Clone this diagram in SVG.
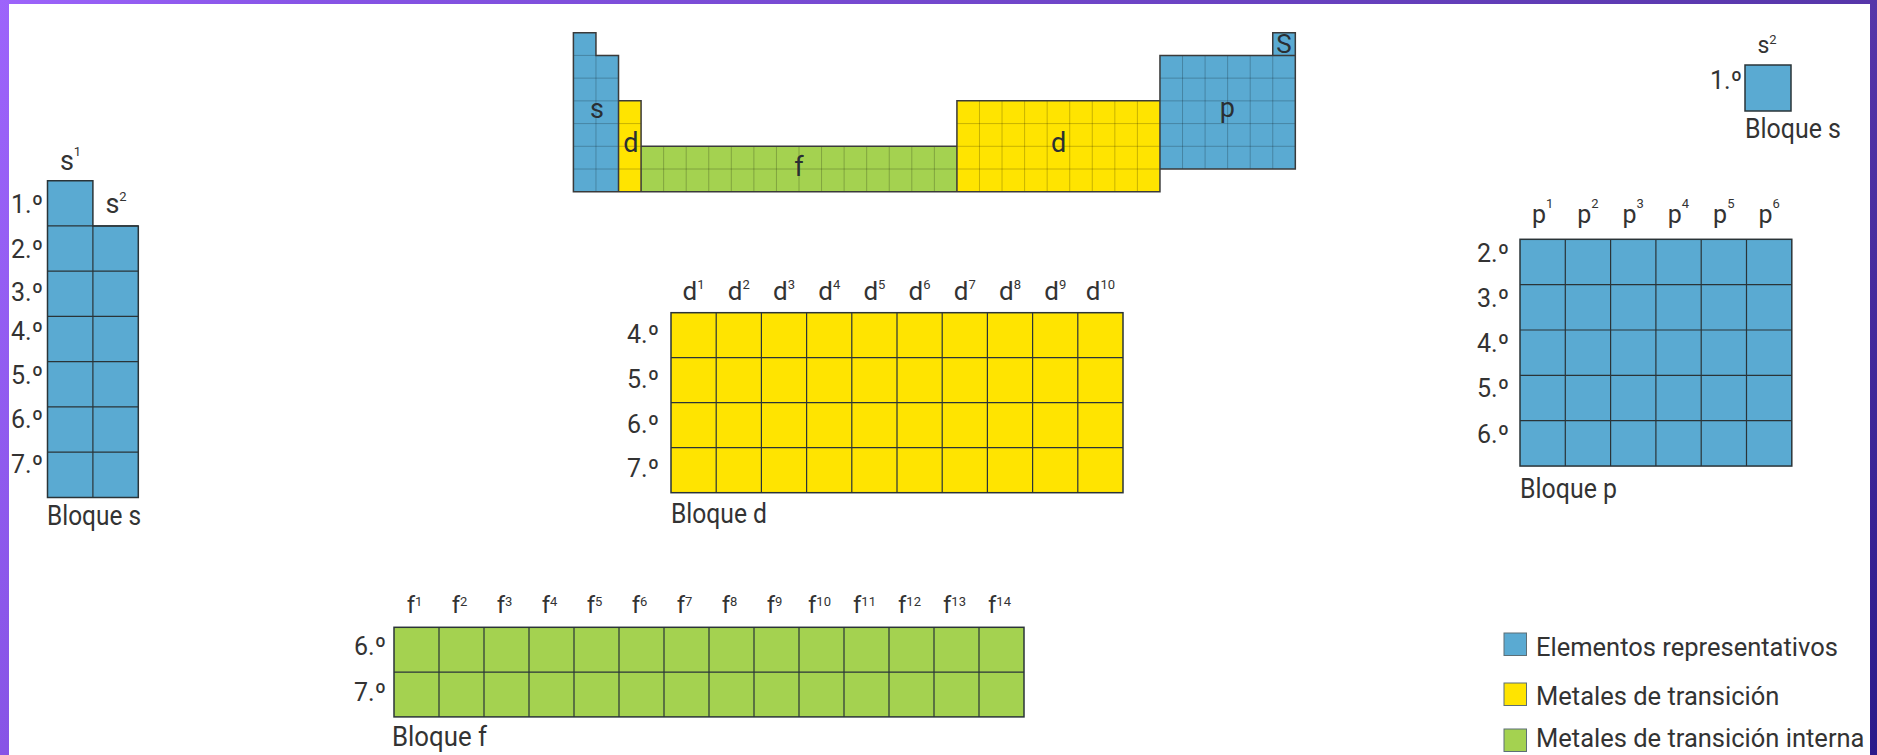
<svg xmlns="http://www.w3.org/2000/svg" width="1877" height="755" viewBox="0 0 1877 755">
<defs>
<linearGradient id="frame" gradientUnits="userSpaceOnUse" x1="0" y1="0" x2="1877" y2="755">
<stop offset="0" stop-color="#9d64fb"/>
<stop offset="0.14" stop-color="#8754e6"/>
<stop offset="0.86" stop-color="#5636a9"/>
<stop offset="1" stop-color="#2a1a8a"/>
</linearGradient>
<style>
.t{font-family:Roboto,"Liberation Sans",sans-serif;fill:#333;}
.per{font-size:25px;}
.cl{text-anchor:middle;}
.sup{font-size:13px;}
.blq{font-size:28px;}
.leg{font-size:25.5px;}
.tl{font-size:27px;fill:#2a2f33;text-anchor:middle;}
.blue{fill:#5aaad2;}
.yel{fill:#ffe400;}
.grn{fill:#a4d250;}
.edge{fill:none;stroke:#2a3438;stroke-width:1.5;}
.grid{fill:none;stroke:#2a3438;stroke-width:1.2;}
.fgrid{fill:none;stroke:#000;stroke-opacity:0.22;stroke-width:1;}
.fedge{fill:none;stroke:#3a3a3a;stroke-width:1.5;}
.lsq{stroke:#5d6f76;stroke-width:1;}
</style>
</defs>
<rect x="0" y="0" width="1877" height="755" fill="url(#frame)"/>
<rect x="9" y="4" width="1861" height="751" fill="#ffffff"/>

<g id="overview-table">
<path class="blue" d="M573.4,32.7 H595.96 V55.42 H618.52 V191.74 H573.4 Z"/>
<rect class="blue" x="1272.76" y="32.7" width="22.56" height="22.72"/>
<rect class="yel" x="618.52" y="100.86" width="22.56" height="90.88"/>
<rect class="grn" x="641.08" y="146.3" width="315.84" height="45.44"/>
<rect class="yel" x="956.92" y="100.86" width="203.04" height="90.88"/>
<rect class="blue" x="1159.96" y="55.42" width="135.36" height="113.6"/>
<path class="fgrid" d="M595.96,55.42 V191.74 M573.4,55.42 H618.52 M573.4,78.14 H618.52 M573.4,100.86 H618.52 M573.4,123.58 H618.52 M573.4,146.3 H618.52 M573.4,169.02 H618.52
M618.52,123.58 H641.08 M618.52,146.3 H641.08 M618.52,169.02 H641.08
M663.64,146.3 V191.74 M686.2,146.3 V191.74 M708.76,146.3 V191.74 M731.32,146.3 V191.74 M753.88,146.3 V191.74 M776.44,146.3 V191.74 M799,146.3 V191.74 M821.56,146.3 V191.74 M844.12,146.3 V191.74 M866.68,146.3 V191.74 M889.24,146.3 V191.74 M911.8,146.3 V191.74 M934.36,146.3 V191.74 M641.08,169.02 H956.92
M979.48,100.86 V191.74 M1002.04,100.86 V191.74 M1024.6,100.86 V191.74 M1047.16,100.86 V191.74 M1069.72,100.86 V191.74 M1092.28,100.86 V191.74 M1114.84,100.86 V191.74 M1137.4,100.86 V191.74 M956.92,123.58 H1159.96 M956.92,146.3 H1159.96 M956.92,169.02 H1159.96
M1182.52,55.42 V169.02 M1205.08,55.42 V169.02 M1227.64,55.42 V169.02 M1250.2,55.42 V169.02 M1272.76,55.42 V169.02 M1159.96,78.14 H1295.32 M1159.96,100.86 H1295.32 M1159.96,123.58 H1295.32 M1159.96,146.3 H1295.32"/>
<path class="fedge" d="M573.4,32.7 H595.96 V55.42 H618.52 V191.74 H573.4 Z M618.52,100.86 H641.08 V191.74 H618.52 Z M641.08,146.3 H956.92 V191.74 H641.08 Z M956.92,100.86 H1159.96 V191.74 H956.92 Z M1159.96,55.42 H1295.32 V169.02 H1159.96 Z M1272.76,32.7 H1295.32 V55.42 H1272.76 Z"/>
<text class="t tl" x="597" y="118">s</text>
<text class="t tl" x="630.8" y="152">d</text>
<text class="t tl" x="799" y="176">f</text>
<text class="t tl" x="1058.6" y="152">d</text>
<text class="t tl" x="1227.4" y="117">p</text>
<text class="t tl" x="1284" y="53" style="font-size:26px">S</text>
</g>

<g id="block-s-left">
<path class="blue" d="M47.5,180.7 H92.9 V225.95 H138.3 V497.45 H47.5 Z"/>
<path class="grid" d="M92.9,225.95 V497.45 M47.5,225.95 H138.3 M47.5,271.2 H138.3 M47.5,316.45 H138.3 M47.5,361.7 H138.3 M47.5,406.95 H138.3 M47.5,452.2 H138.3"/>
<path class="edge" d="M47.5,180.7 H92.9 V225.95 H138.3 V497.45 H47.5 Z"/>
<text class="t cl" x="70.5" y="169.5" style="font-size:27px">s<tspan class="sup" dy="-14">1</tspan></text>
<text class="t cl" x="116" y="213" style="font-size:27px">s<tspan class="sup" dy="-12">2</tspan></text>
<text class="t per" x="11" y="213">1.º</text>
<text class="t per" x="11" y="258">2.º</text>
<text class="t per" x="11" y="301">3.º</text>
<text class="t per" x="11" y="340">4.º</text>
<text class="t per" x="11" y="384">5.º</text>
<text class="t per" x="11" y="428">6.º</text>
<text class="t per" x="11" y="473">7.º</text>
<text class="t blq" x="47" y="525" textLength="94" lengthAdjust="spacingAndGlyphs">Bloque s</text>
</g>

<g id="block-d">
<rect class="yel" x="671" y="312.7" width="452" height="180"/>
<path class="grid" d="M716.2,312.7 V492.7 M761.4,312.7 V492.7 M806.6,312.7 V492.7 M851.8,312.7 V492.7 M897,312.7 V492.7 M942.2,312.7 V492.7 M987.4,312.7 V492.7 M1032.6,312.7 V492.7 M1077.8,312.7 V492.7 M671,357.7 H1123 M671,402.7 H1123 M671,447.7 H1123"/>
<rect class="edge" x="671" y="312.7" width="452" height="180"/>
<text class="t cl" x="693.6" y="300" style="font-size:26px">d<tspan class="sup" dy="-11">1</tspan></text>
<text class="t cl" x="738.8" y="300" style="font-size:26px">d<tspan class="sup" dy="-11">2</tspan></text>
<text class="t cl" x="784" y="300" style="font-size:26px">d<tspan class="sup" dy="-11">3</tspan></text>
<text class="t cl" x="829.2" y="300" style="font-size:26px">d<tspan class="sup" dy="-11">4</tspan></text>
<text class="t cl" x="874.4" y="300" style="font-size:26px">d<tspan class="sup" dy="-11">5</tspan></text>
<text class="t cl" x="919.6" y="300" style="font-size:26px">d<tspan class="sup" dy="-11">6</tspan></text>
<text class="t cl" x="964.8" y="300" style="font-size:26px">d<tspan class="sup" dy="-11">7</tspan></text>
<text class="t cl" x="1010" y="300" style="font-size:26px">d<tspan class="sup" dy="-11">8</tspan></text>
<text class="t cl" x="1055.2" y="300" style="font-size:26px">d<tspan class="sup" dy="-11">9</tspan></text>
<text class="t cl" x="1100.4" y="300" style="font-size:26px">d<tspan class="sup" dy="-11">10</tspan></text>
<text class="t per" x="627" y="343">4.º</text>
<text class="t per" x="627" y="388">5.º</text>
<text class="t per" x="627" y="433">6.º</text>
<text class="t per" x="627" y="477">7.º</text>
<text class="t blq" x="671" y="523" textLength="96" lengthAdjust="spacingAndGlyphs">Bloque d</text>
</g>

<g id="block-p">
<rect class="blue" x="1520" y="239.3" width="271.8" height="226.75"/>
<path class="grid" d="M1565.3,239.3 V466.05 M1610.6,239.3 V466.05 M1655.9,239.3 V466.05 M1701.2,239.3 V466.05 M1746.5,239.3 V466.05 M1520,284.65 H1791.8 M1520,330 H1791.8 M1520,375.35 H1791.8 M1520,420.7 H1791.8"/>
<rect class="edge" x="1520" y="239.3" width="271.8" height="226.75"/>
<text class="t cl" x="1542.6" y="223" style="font-size:25px">p<tspan class="sup" dy="-15">1</tspan></text>
<text class="t cl" x="1587.9" y="223" style="font-size:25px">p<tspan class="sup" dy="-15">2</tspan></text>
<text class="t cl" x="1633.2" y="223" style="font-size:25px">p<tspan class="sup" dy="-15">3</tspan></text>
<text class="t cl" x="1678.5" y="223" style="font-size:25px">p<tspan class="sup" dy="-15">4</tspan></text>
<text class="t cl" x="1723.8" y="223" style="font-size:25px">p<tspan class="sup" dy="-15">5</tspan></text>
<text class="t cl" x="1769.1" y="223" style="font-size:25px">p<tspan class="sup" dy="-15">6</tspan></text>
<text class="t per" x="1477" y="262">2.º</text>
<text class="t per" x="1477" y="307">3.º</text>
<text class="t per" x="1477" y="352">4.º</text>
<text class="t per" x="1477" y="397">5.º</text>
<text class="t per" x="1477" y="443">6.º</text>
<text class="t blq" x="1520" y="498" textLength="97" lengthAdjust="spacingAndGlyphs">Bloque p</text>
</g>

<g id="block-f">
<rect class="grn" x="394" y="627.3" width="630" height="89.6"/>
<path class="grid" d="M439,627.3 V716.9 M484,627.3 V716.9 M529,627.3 V716.9 M574,627.3 V716.9 M619,627.3 V716.9 M664,627.3 V716.9 M709,627.3 V716.9 M754,627.3 V716.9 M799,627.3 V716.9 M844,627.3 V716.9 M889,627.3 V716.9 M934,627.3 V716.9 M979,627.3 V716.9 M394,672.1 H1024"/>
<rect class="edge" x="394" y="627.3" width="630" height="89.6"/>
<text class="t cl" x="414.5" y="613" style="font-size:24px">f<tspan class="sup" dy="-7">1</tspan></text>
<text class="t cl" x="459.5" y="613" style="font-size:24px">f<tspan class="sup" dy="-7">2</tspan></text>
<text class="t cl" x="504.5" y="613" style="font-size:24px">f<tspan class="sup" dy="-7">3</tspan></text>
<text class="t cl" x="549.5" y="613" style="font-size:24px">f<tspan class="sup" dy="-7">4</tspan></text>
<text class="t cl" x="594.5" y="613" style="font-size:24px">f<tspan class="sup" dy="-7">5</tspan></text>
<text class="t cl" x="639.5" y="613" style="font-size:24px">f<tspan class="sup" dy="-7">6</tspan></text>
<text class="t cl" x="684.5" y="613" style="font-size:24px">f<tspan class="sup" dy="-7">7</tspan></text>
<text class="t cl" x="729.5" y="613" style="font-size:24px">f<tspan class="sup" dy="-7">8</tspan></text>
<text class="t cl" x="774.5" y="613" style="font-size:24px">f<tspan class="sup" dy="-7">9</tspan></text>
<text class="t cl" x="819.5" y="613" style="font-size:24px">f<tspan class="sup" dy="-7">10</tspan></text>
<text class="t cl" x="864.5" y="613" style="font-size:24px">f<tspan class="sup" dy="-7">11</tspan></text>
<text class="t cl" x="909.5" y="613" style="font-size:24px">f<tspan class="sup" dy="-7">12</tspan></text>
<text class="t cl" x="954.5" y="613" style="font-size:24px">f<tspan class="sup" dy="-7">13</tspan></text>
<text class="t cl" x="999.5" y="613" style="font-size:24px">f<tspan class="sup" dy="-7">14</tspan></text>
<text class="t per" x="354" y="655">6.º</text>
<text class="t per" x="354" y="701">7.º</text>
<text class="t blq" x="392" y="746" textLength="95" lengthAdjust="spacingAndGlyphs">Bloque f</text>
</g>

<g id="block-s-right">
<rect class="blue edge" x="1745" y="65" width="46" height="46" style="fill:#5aaad2"/>
<text class="t cl" x="1767" y="53.3" style="font-size:23px">s<tspan class="sup" dy="-9">2</tspan></text>
<text class="t per" x="1710" y="88.5">1.º</text>
<text class="t blq" x="1745" y="138.3" textLength="96" lengthAdjust="spacingAndGlyphs">Bloque s</text>
</g>

<g id="legend">
<rect class="blue lsq" x="1504" y="633" width="22.5" height="22.5"/>
<text class="t leg" x="1536" y="656">Elementos representativos</text>
<rect class="yel lsq" x="1504" y="683" width="22.5" height="22.5"/>
<text class="t leg" x="1536" y="705">Metales de transición</text>
<rect class="grn lsq" x="1504" y="729" width="22.5" height="22.5"/>
<text class="t leg" x="1536" y="747">Metales de transición interna</text>
</g>

<g id="connectors"></g>
</svg>
